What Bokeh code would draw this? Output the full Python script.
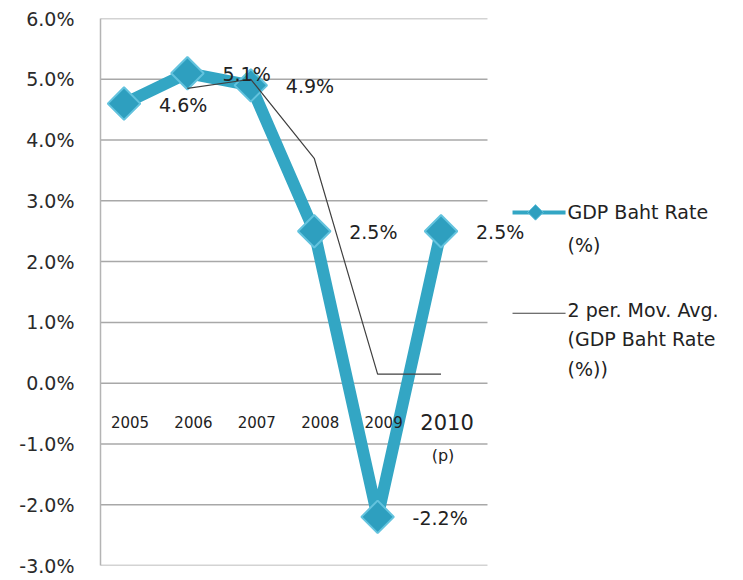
import numpy as np
from bokeh.plotting import figure
from bokeh.models import ColumnDataSource, FixedTicker, PrintfTickFormatter
from bokeh.core.properties import value
from bokeh.embed import file_html
from bokeh.resources import INLINE

# ---- data ----
years = ["2005", "2006", "2007", "2008", "2009", "2010"]
gdp_rate = [4.6, 5.1, 4.9, 2.5, -2.2, 2.5]
y_ticks = [-3, -2, -1, 0, 1, 2, 3, 4, 5, 6]
legend_main = ["GDP Baht Rate", "(%)"]
legend_ma = ["2 per. Mov. Avg.", "(GDP Baht Rate", "(%))"]
note_2010 = "(p)"

FONT = "DejaVu Sans"
TEAL = "#33a6c4"

xi = np.arange(len(years))
ma = [np.nan] + [(gdp_rate[i - 1] + gdp_rate[i]) / 2 for i in range(1, len(gdp_rate))]

src = ColumnDataSource(dict(
    x=xi, y=gdp_rate,
    lbl=[f"{v:.1f}%" for v in gdp_rate],
))
ma_src = ColumnDataSource(dict(x=xi[1:], y=ma[1:]))
cat_src = ColumnDataSource(dict(
    x=xi, y=[0] * len(years), t=years,
    fs=["15px"] * (len(years) - 1) + ["21px"],
))

p = figure(width=743, height=580, output_backend="svg", toolbar_location=None,
           x_range=(-0.371, 9.771), y_range=(-3, 6),
           min_border_left=100, min_border_right=0, min_border_top=18, min_border_bottom=15)
p.outline_line_color = None
p.background_fill_color = "white"
p.border_fill_color = "white"
p.xaxis.visible = False
p.xgrid.visible = False
p.ygrid.visible = False

yax = p.yaxis[0]
yax.ticker = FixedTicker(ticks=y_ticks)
yax.formatter = PrintfTickFormatter(format="%.1f%%")
yax.axis_line_color = "#b4b4b4"
yax.axis_line_width = 1.5
yax.major_tick_line_color = None
yax.minor_tick_line_color = None
yax.major_label_standoff = 20
yax.major_label_text_font = FONT
yax.major_label_text_font_size = "19px"
yax.major_label_text_color = "#2a2a2a"

# horizontal gridlines limited to the plot area
gx0 = -0.371
gx1 = 5.733
p.segment(x0=[gx0] * len(y_ticks), x1=[gx1] * len(y_ticks), y0=y_ticks, y1=y_ticks,
          line_color="#a8a8a8", line_width=1.5)

# main series
p.line("x", "y", source=src, line_color=TEAL, line_width=12, line_join="bevel")

# category labels along the zero axis
p.text(x="x", y="y", text="t", source=cat_src, text_font=value(FONT),
       text_font_size="fs", text_align="center", text_baseline="middle",
       x_offset=6, y_offset=39, text_color="#222222")
p.text(x=[xi[-1]], y=[0], text=[note_2010], text_font=value(FONT),
       text_font_size="16px", text_align="center", text_baseline="middle",
       x_offset=2, y_offset=72, text_color="#222222")

p.scatter("x", "y", source=src, marker="square", angle=np.pi / 4, size=23,
          fill_color="#2e9fbf", line_color="#63c3de", line_width=2)

# moving average
p.line("x", "y", source=ma_src, line_color="#404040", line_width=1.2)

# data labels
p.text(x="x", y="y", text="lbl", source=src, text_font=value(FONT),
       text_font_size="19px", text_align="left", text_baseline="middle",
       x_offset=35, y_offset=1, text_color="#222222")

# legend (drawn manually)
p.line(x=[6.128, 6.964], y=[2.81, 2.81], line_color=TEAL, line_width=4)
p.scatter(x=[6.49], y=[2.81], marker="square", angle=np.pi / 4, size=11,
          fill_color="#2e9fbf", line_color="#63c3de", line_width=1)
p.text(x=[6.995] * 2, y=[2.81, 2.28], text=legend_main, text_font=value(FONT),
       text_font_size="19px", text_align="left", text_baseline="middle",
       text_color="#222222")
p.line(x=[6.128, 6.964], y=[1.15, 1.15], line_color="#404040", line_width=1.2)
p.text(x=[6.995] * 3, y=[1.196, 0.719, 0.241], text=legend_ma, text_font=value(FONT),
       text_font_size="19px", text_align="left", text_baseline="middle",
       text_color="#222222")

open("out.html", "w").write(file_html(p, INLINE))
